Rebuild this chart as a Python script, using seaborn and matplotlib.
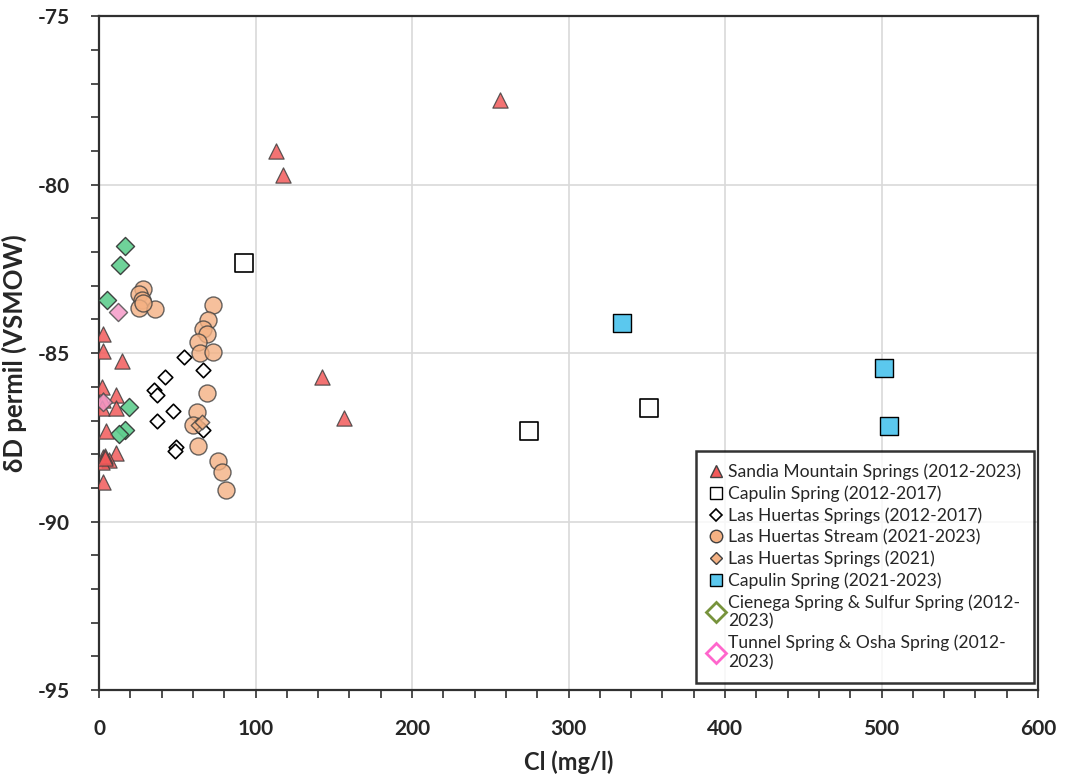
import matplotlib
matplotlib.use("Agg")
import matplotlib.pyplot as plt
import seaborn as sns
import numpy as np
import pandas as pd
from matplotlib.lines import Line2D
from matplotlib.ticker import MultipleLocator

# ---- data ----
sandia_cl = [256, 113, 117.6, 142.5, 156.5, 2.4, 2.4, 14.9, 1.7, 10.9, 2.4, 1.7, 10.9,
             4.5, 10.9, 2.8, 6.6, 1.7, 2.4, 3.5, 4.0]
sandia_dd = [-77.49, -79.0, -79.72, -85.71, -86.93, -84.42, -84.93, -85.24, -86.0, -86.25,
             -86.39, -86.64, -86.64, -87.3, -87.96, -88.08, -88.17, -88.22, -88.82, -88.05, -88.12]

cap_old_cl = [92.7, 274.8, 351.4]
cap_old_dd = [-82.33, -87.31, -86.63]

lhs_old_cl = [54.5, 42.2, 66.3, 35.1, 36.9, 47.1, 36.9, 66.3, 49.2, 48.6]
lhs_old_dd = [-85.11, -85.70, -85.50, -86.10, -86.25, -86.72, -87.01, -87.29, -87.80, -87.90]

stream_cl = [28.3, 25.8, 27.3, 25.8, 35.8, 73.0, 69.9, 66.6, 68.8, 63.5, 64.5, 72.7,
             68.8, 62.4, 59.9, 63.5, 76.2, 78.4, 81.0, 28.0]
stream_dd = [-83.11, -83.23, -83.43, -83.67, -83.70, -83.58, -84.02, -84.27, -84.44, -84.66,
             -84.99, -84.96, -86.18, -86.74, -87.14, -87.76, -88.20, -88.54, -89.07, -83.50]

lhs21_cl = [63.5, 65.5]
lhs21_dd = [-87.14, -87.05]

cap_new_cl = [334.2, 501.6, 504.8]
cap_new_dd = [-84.11, -85.45, -87.17]

cien_cl = [16.6, 13.4, 4.9, 19.2, 16.6, 13.0]
cien_dd = [-81.82, -82.37, -83.41, -86.59, -87.28, -87.40]

tunnel_cl = [12.3, 2.4]
tunnel_dd = [-83.77, -86.45]

labels = ["Sandia Mountain Springs (2012-2023)",
          "Capulin Spring (2012-2017)",
          "Las Huertas Springs (2012-2017)",
          "Las Huertas Stream (2021-2023)",
          "Las Huertas Springs (2021)",
          "Capulin Spring (2021-2023)",
          "Cienega Spring & Sulfur Spring (2012-\n2023)",
          "Tunnel Spring & Osha Spring (2012-\n2023)"]

# ---- style ----
sns.set_style("white")
plt.rcParams['font.family'] = ['Lato', 'DejaVu Sans']
plt.rcParams['axes.unicode_minus'] = False

fig = plt.figure(figsize=(10.65, 7.76), dpi=100)
ax = fig.add_axes([0.093, 0.1108, 0.8817, 0.8682])

def sc(x, y, **kw):
    sns.scatterplot(x=x, y=y, ax=ax, legend=False, **kw)

sc(stream_cl, stream_dd, marker='o', s=150, color='#f4b183', edgecolor='#404040',
   linewidth=1.0, alpha=0.8, zorder=3)
sc(lhs_old_cl, lhs_old_dd, marker='D', s=55, color='white', edgecolor='black',
   linewidth=1.2, zorder=3)
sc(lhs21_cl, lhs21_dd, marker='D', s=55, color='#f4b183', edgecolor='#404040',
   linewidth=1.0, alpha=0.8, zorder=4)
sc(cap_old_cl, cap_old_dd, marker='s', s=150, color='white', edgecolor='black',
   linewidth=1.2, zorder=3)
sc(cap_new_cl, cap_new_dd, marker='s', s=150, color='#5bc8ee', edgecolor='black',
   linewidth=1.0, zorder=3)
sc(cien_cl, cien_dd, marker='D', s=85, color='#5fce8e', edgecolor='#303030',
   linewidth=1.0, alpha=0.9, zorder=3)
sc(sandia_cl, sandia_dd, marker='^', s=120, color='#f25a5a', edgecolor='#404040',
   linewidth=0.9, alpha=0.85, zorder=4)
sc(tunnel_cl, tunnel_dd, marker='D', s=85, color='#f59ac8', edgecolor='#505050',
   linewidth=1.0, alpha=0.85, zorder=5)

ax.set_xlim(0, 600)
ax.set_ylim(-95, -75)
ax.xaxis.set_major_locator(MultipleLocator(100))
ax.xaxis.set_minor_locator(MultipleLocator(20))
ax.yaxis.set_major_locator(MultipleLocator(5))
ax.yaxis.set_minor_locator(MultipleLocator(1))
ax.grid(True, which='major', color='#d9d9d9', linewidth=1.2, zorder=0)
ax.set_axisbelow(True)
for s in ['top', 'right', 'left', 'bottom']:
    ax.spines[s].set_color('#303030')
    ax.spines[s].set_linewidth(1.6)
ax.tick_params(axis='both', which='both', direction='out', length=6, width=1.2,
               color='#303030', bottom=True, left=True, top=False, right=False)
ax.tick_params(axis='x', which='major', pad=15)
ax.tick_params(axis='y', which='major', pad=15)
for lab in ax.get_xticklabels() + ax.get_yticklabels():
    lab.set_fontweight('bold')
    lab.set_fontsize(15)

ax.set_xlabel("Cl (mg/l)", fontsize=17, fontweight='bold', labelpad=8)
ax.set_ylabel("δD permil (VSMOW)", fontsize=18.5, fontweight='bold', labelpad=8)

handles = [
    Line2D([], [], ls='', marker='^', markersize=8, markerfacecolor='#f25a5a', markeredgecolor='#404040'),
    Line2D([], [], ls='', marker='s', markersize=9, markerfacecolor='white', markeredgecolor='black'),
    Line2D([], [], ls='', marker='D', markersize=6, markerfacecolor='white', markeredgecolor='black', markeredgewidth=1.2),
    Line2D([], [], ls='', marker='o', markersize=9, markerfacecolor='#f4b183', markeredgecolor='#404040'),
    Line2D([], [], ls='', marker='D', markersize=6, markerfacecolor='#f4b183', markeredgecolor='#404040'),
    Line2D([], [], ls='', marker='s', markersize=9, markerfacecolor='#5bc8ee', markeredgecolor='black'),
    Line2D([], [], ls='', marker='D', markersize=10, markerfacecolor='white', markeredgecolor='#77933c', markeredgewidth=2),
    Line2D([], [], ls='', marker='D', markersize=10, markerfacecolor='white', markeredgecolor='#ff66cc', markeredgewidth=2),
]
leg = ax.legend(handles, labels, loc='lower right', bbox_to_anchor=(0.996, 0.010),
                fontsize=12.6, frameon=True, fancybox=False, handlelength=0.8,
                handletextpad=0.3, labelspacing=0.3, borderpad=0.75, borderaxespad=0)
leg.get_frame().set_edgecolor('black')
leg.get_frame().set_linewidth(1.8)
leg.set_zorder(10)

fig.savefig("out.png", dpi=100)
